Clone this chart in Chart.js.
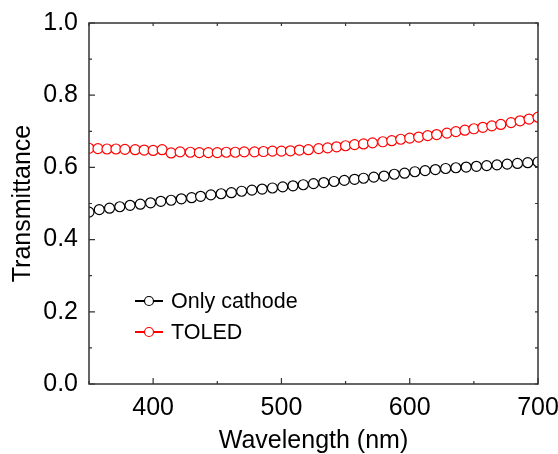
<!DOCTYPE html>
<html>
<head>
<meta charset="utf-8">
<script src="https://cdn.jsdelivr.net/npm/chart.js@4.4.1/dist/chart.umd.min.js"></script>
<style>
  html, body { margin: 0; padding: 0; background: #fff; }
  #wrap { width: 558px; height: 454px; }
</style>
</head>
<body>
<div id="wrap"><canvas id="graph" width="558" height="454"></canvas></div>
<script>
// wavelength (nm) and transmittance for the bare cathode
const cathodeWl = [350, 358, 366, 374, 382, 390, 398, 406, 414, 422, 430, 437, 445, 453, 461,
  469, 477, 485, 493, 501, 509, 517, 525, 533, 541, 549, 557, 564, 572, 580,
  588, 596, 604, 612, 620, 628, 636, 644, 652, 660, 668, 676, 684, 692, 700];
const cathodeT = [0.476, 0.483, 0.487, 0.491, 0.495, 0.498, 0.502, 0.506, 0.509, 0.513, 0.516, 0.520, 0.524, 0.527, 0.530,
  0.534, 0.537, 0.540, 0.543, 0.546, 0.549, 0.552, 0.555, 0.558, 0.561, 0.564, 0.567, 0.570, 0.573, 0.576,
  0.581, 0.584, 0.588, 0.591, 0.594, 0.597, 0.599, 0.601, 0.603, 0.605, 0.607, 0.609, 0.611, 0.613, 0.615];

// wavelength (nm) and transmittance for the full TOLED stack
const toledWl = [350, 357, 364, 371, 378, 386, 393, 400, 407, 414, 421, 429, 436, 443, 450, 457, 464,
  471, 479, 486, 493, 500, 507, 514, 521, 529, 536, 543, 550, 557, 564, 571, 579,
  586, 593, 600, 607, 614, 621, 629, 636, 643, 650, 657, 664, 671, 679, 686, 693, 700];
const toledT = [0.653, 0.652, 0.651, 0.651, 0.650, 0.649, 0.648, 0.647, 0.649, 0.640, 0.643, 0.642, 0.641, 0.641, 0.641, 0.642, 0.642,
  0.643, 0.643, 0.644, 0.645, 0.645, 0.646, 0.648, 0.649, 0.652, 0.654, 0.657, 0.660, 0.663, 0.665, 0.668, 0.671,
  0.674, 0.678, 0.681, 0.684, 0.688, 0.691, 0.695, 0.699, 0.703, 0.707, 0.711, 0.715, 0.719, 0.724, 0.729, 0.734, 0.739];

const seriesNames = ["Only cathode", "TOLED"];
const seriesColors = ["#000000", "#ff0000"];

const FONT = "'Liberation Sans', Arial, sans-serif";

const pairs = (xs, ys) => xs.map((x, i) => ({ x: x, y: ys[i] }));

// box around the plot with inward ticks on all four sides
const frame = {
  id: 'frame',
  afterDatasetsDraw(chart) {
    const ctx = chart.ctx;
    const a = chart.chartArea;
    const xs = chart.scales.x, ys = chart.scales.y;
    ctx.save();
    ctx.strokeStyle = '#333';
    ctx.lineWidth = 1.5;
    ctx.strokeRect(a.left, a.top, a.right - a.left, a.bottom - a.top);
    ctx.lineWidth = 1.2;
    ctx.beginPath();
    xs.ticks.forEach(t => {
      const px = xs.getPixelForValue(t.value);
      const major = Math.round(t.value) % 100 === 0;
      ctx.moveTo(px, a.bottom);
      ctx.lineTo(px, a.bottom - (major ? 6 : 3));
      ctx.moveTo(px, a.top);
      ctx.lineTo(px, a.top + 3);
    });
    ys.ticks.forEach(t => {
      const py = ys.getPixelForValue(t.value);
      const major = Math.round(t.value * 10) % 2 === 0;
      ctx.moveTo(a.left, py);
      ctx.lineTo(a.left + (major ? 6 : 3), py);
      ctx.moveTo(a.right, py);
      ctx.lineTo(a.right - 3, py);
    });
    ctx.stroke();
    ctx.restore();
  }
};

// legend drawn inside the plot area, lower left
const insideLegend = {
  id: 'insideLegend',
  afterDraw(chart) {
    const ctx = chart.ctx;
    ctx.save();
    ctx.font = '21.5px ' + FONT;
    ctx.textBaseline = 'middle';
    chart.data.datasets.forEach((ds, i) => {
      const y = 301 + i * 31;
      ctx.strokeStyle = ds.borderColor;
      ctx.lineWidth = 2;
      ctx.beginPath();
      ctx.moveTo(135, y);
      ctx.lineTo(163, y);
      ctx.stroke();
      ctx.fillStyle = '#fff';
      ctx.lineWidth = 1.2;
      ctx.beginPath();
      ctx.arc(149, y, 4.5, 0, Math.PI * 2);
      ctx.fill();
      ctx.stroke();
      ctx.fillStyle = '#000';
      ctx.fillText(ds.label, 171, y + 1);
    });
    ctx.restore();
  }
};

const graph = document.getElementById('graph').getContext('2d');

let myChart = new Chart(graph, {
  type: 'scatter',
  data: {
    datasets: [
      {
        label: seriesNames[0],
        data: pairs(cathodeWl, cathodeT),
        borderColor: seriesColors[0],
        pointBorderColor: seriesColors[0],
        pointBackgroundColor: '#fff',
        pointRadius: 5,
        pointBorderWidth: 1.2,
        showLine: true,
        borderWidth: 1.2,
        clip: 0,
      },
      {
        label: seriesNames[1],
        data: pairs(toledWl, toledT),
        borderColor: seriesColors[1],
        pointBorderColor: seriesColors[1],
        pointBackgroundColor: '#fff',
        pointRadius: 5,
        pointBorderWidth: 1.2,
        showLine: true,
        borderWidth: 1.2,
        clip: 0,
      }
    ]
  },
  options: {
    responsive: false,
    animation: false,
    events: [],
    layout: { padding: { top: 23, right: 20, left: 0, bottom: 0 } },
    plugins: {
      legend: { display: false },
      tooltip: { enabled: false },
    },
    scales: {
      x: {
        type: 'linear',
        min: 350,
        max: 700,
        border: { display: false },
        grid: { display: false, drawTicks: false },
        ticks: {
          stepSize: 50,
          padding: 9,
          color: '#000',
          font: { family: FONT, size: 25 },
          maxRotation: 0,
          callback: v => (v % 100 === 0 ? String(v) : ''),
        },
        title: {
          display: true,
          text: 'Wavelength (nm)',
          color: '#000',
          font: { family: FONT, size: 25, lineHeight: 1 },
          padding: { top: 0, bottom: 0 },
        },
        afterFit: s => {
          s.height = 70;
          s.paddingLeft = 0;
          s.paddingRight = 0;
        },
      },
      y: {
        min: 0,
        max: 1,
        border: { display: false },
        grid: { display: false, drawTicks: false },
        ticks: {
          stepSize: 0.1,
          padding: 11,
          color: '#000',
          font: { family: FONT, size: 25 },
          callback: v => (Math.round(v * 10) % 2 === 0 ? v.toFixed(1) : ''),
        },
        title: {
          display: true,
          text: 'Transmittance',
          color: '#000',
          font: { family: FONT, size: 25, lineHeight: 1 },
          padding: { top: 11, bottom: 0 },
        },
        afterFit: s => {
          s.width = 89;
          s.paddingTop = 0;
          s.paddingBottom = 0;
        },
      }
    }
  },
  plugins: [frame, insideLegend],
});
</script>
</body>
</html>
